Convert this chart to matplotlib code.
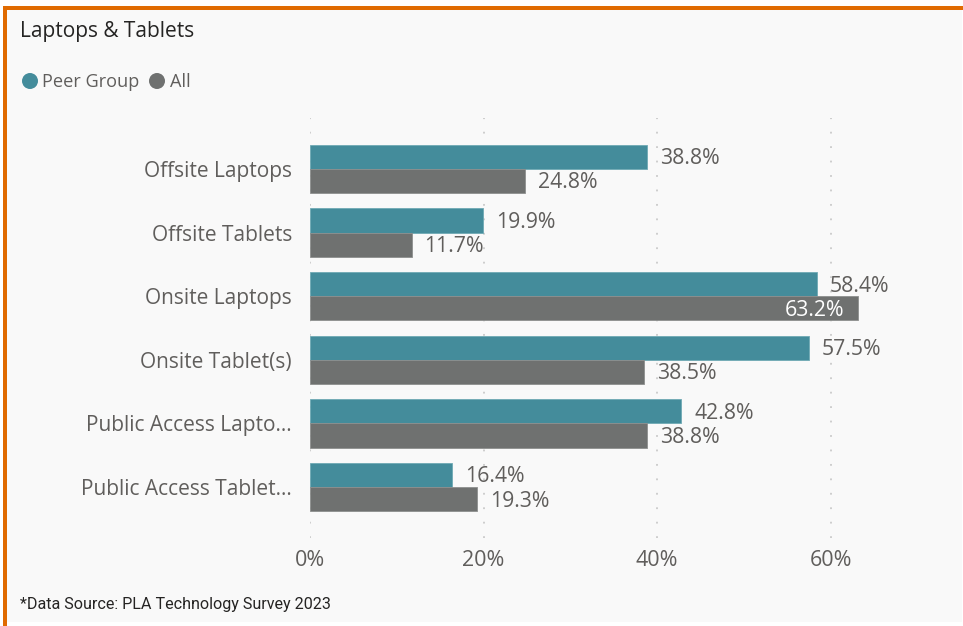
import matplotlib.pyplot as plt
from matplotlib.patches import Rectangle, Ellipse
import numpy as np

# data
categories = ["Offsite Laptops", "Offsite Tablets", "Onsite Laptops",
              "Onsite Tablet(s)", "Public Access Lapto...", "Public Access Tablet..."]
peer_group = [38.8, 19.9, 58.4, 57.5, 42.8, 16.4]
all_libs = [24.8, 11.7, 63.2, 38.5, 38.8, 19.3]
x_ticks = [0, 20, 40, 60]

W, H = 963, 626
teal = "#448c9b"
grey = "#6f7170"
txt = "#605e5c"

plt.rcParams['font.family'] = ['Open Sans', 'DejaVu Sans']

fig = plt.figure(figsize=(W / 100, H / 100), dpi=100, facecolor="white")

# card background and orange border
fig.patches.append(Rectangle((7 / W, 1 - 622 / H), (962 - 7) / W, (622 - 10) / H,
                             transform=fig.transFigure, facecolor="#f9f9f9",
                             edgecolor="none", zorder=-3))
fig.patches.append(Rectangle((3 / W, 1 - 10 / H), (963 - 3) / W, 4 / H,
                             transform=fig.transFigure, facecolor="#e06a00",
                             edgecolor="none", zorder=-2))
fig.patches.append(Rectangle((3 / W, 0), 4 / W, 1 - 6 / H,
                             transform=fig.transFigure, facecolor="#e06a00",
                             edgecolor="none", zorder=-2))

ax = fig.add_axes([310 / W, 1 - 538 / H, (900 - 310) / W, (538 - 118) / H])
ax.set_facecolor("none")

y = np.arange(len(categories))
h = 0.38
ax.barh(y - h / 2, peer_group, height=h, color=teal, edgecolor="#6fa9b4", linewidth=0.6, zorder=2)
ax.barh(y + h / 2, all_libs, height=h, color=grey, edgecolor="#8d8f8e", linewidth=0.6, zorder=2)

xmax = 68
ax.set_xlim(0, xmax)
ax.set_ylim(len(categories) - 1 + 0.8, -0.8)

ax.set_xticks(x_ticks)
ax.set_xticklabels([f"{t}%" for t in x_ticks])
ax.set_yticks(y)
ax.set_yticklabels(categories)
ax.tick_params(axis="x", length=0, pad=9, labelsize=15.5, labelcolor=txt)
ax.tick_params(axis="y", length=0, pad=13, labelsize=15, labelcolor=txt)
for s in ax.spines.values():
    s.set_visible(False)
ax.xaxis.grid(True, color="#cacaca", linestyle=(0, (1, 7)), linewidth=1.3, zorder=0)

# data labels
for vals, off in ((peer_group, -h / 2), (all_libs, h / 2)):
    for i, v in enumerate(vals):
        if v > 61:
            ax.annotate(f"{v:.1f}%", (v, i + off), xytext=(-14, -2), textcoords="offset pixels",
                        ha="right", va="center", fontsize=15.3, color="white", zorder=3)
        else:
            ax.annotate(f"{v:.1f}%", (v, i + off), xytext=(13, -2), textcoords="offset pixels",
                        ha="left", va="center", fontsize=15.3, color=txt, zorder=3)

# title, legend, footnote
fig.text(20 / W, 1 - 32 / H, "Laptops & Tablets", fontsize=15, color="#252423",
         ha="left", va="center")
fig.patches.append(Ellipse((30 / W, 1 - 81 / H), 16 / W, 16 / H, transform=fig.transFigure,
                           facecolor=teal, edgecolor="none"))
fig.text(42 / W, 1 - 82 / H, "Peer Group", fontsize=13.1, color=txt, ha="left", va="center")
fig.patches.append(Ellipse((157 / W, 1 - 81 / H), 16 / W, 16 / H, transform=fig.transFigure,
                           facecolor=grey, edgecolor="none"))
fig.text(170 / W, 1 - 82 / H, "All", fontsize=13.1, color=txt, ha="left", va="center")
fig.text(20 / W, 1 - 604 / H, "*Data Source: PLA Technology Survey 2023", fontsize=11.65,
         color="#252423", ha="left", va="center", family=["Roboto", "DejaVu Sans"])

fig.savefig("out.png", dpi=100, facecolor="white")
